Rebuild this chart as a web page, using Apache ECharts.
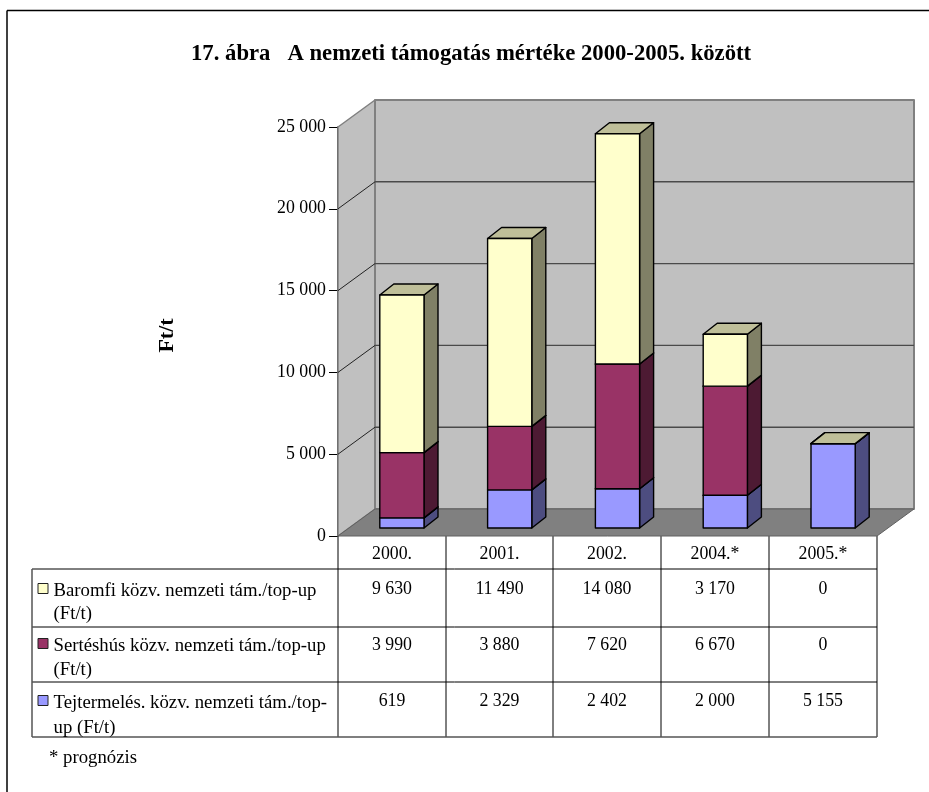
<!DOCTYPE html>
<html><head><meta charset="utf-8">
<style>html,body{margin:0;padding:0;background:#fff}#c{width:929px;height:792px}</style>
<script src="https://cdn.jsdelivr.net/npm/echarts@6/dist/echarts.min.js"></script>
</head><body><div id="c"></div>
<script>
const titleText = '17. ábra   A nemzeti támogatás mértéke 2000-2005. között';
const axisName = 'Ft/t';
const footnote = '* prognózis';
const categories = ['2000.', '2001.', '2002.', '2004.*', '2005.*'];
const tejValues = [619, 2329, 2402, 2000, 5155];
const sertesValues = [3990, 3880, 7620, 6670, 0];
const baromfiValues = [9630, 11490, 14080, 3170, 0];
const baromfiLabel = ['Baromfi közv. nemzeti tám./top-up', '(Ft/t)'];
const sertesLabel = ['Sertéshús közv. nemzeti tám./top-up', '(Ft/t)'];
const tejLabel = ['Tejtermelés. közv. nemzeti tám./top-', 'up (Ft/t)'];

const FONT = '"Liberation Serif","Times New Roman",serif';
const DX = 37, DY = -27;           // depth of the chart box
const BDX = 14, BDY = -11;         // depth of a bar
const OFFX = 10, OFFY = -8;        // bar position within the depth
const G = {left: 338, top: 127, width: 539, height: 409};

const fmt = v => String(v).replace(/\B(?=(\d{3})+$)/g, ' ');
const poly = (pts, fill, stroke, lw) => ({type: 'polygon', shape: {points: pts},
  style: {fill, stroke, lineWidth: lw, lineJoin: 'round'}});

function wallsItem(params, api) {
  const c = params.coordSys, x0 = c.x, x1 = c.x + c.width, yb = c.y + c.height, yt = c.y;
  const ch = [
    poly([[x0, yb], [x0 + DX, yb + DY], [x0 + DX, yt + DY], [x0, yt]], '#c0c0c0', '#808080', 1.5),
    poly([[x0 + DX, yb + DY], [x1 + DX, yb + DY], [x1 + DX, yt + DY], [x0 + DX, yt + DY]], '#c0c0c0', '#808080', 2)
  ];
  [5000, 10000, 15000, 20000].forEach(v => {
    const y = api.coord([0, v])[1];
    ch.push({type: 'line', shape: {x1: x0, y1: y, x2: x0 + DX, y2: y + DY},
      style: {stroke: '#222', lineWidth: 1}});
    ch.push({type: 'line', shape: {x1: x0 + DX, y1: y + DY, x2: x1 + DX, y2: y + DY},
      style: {stroke: '#4a4a4a', lineWidth: 1.4}});
  });
  ch.push(poly([[x0, yb], [x1, yb], [x1 + DX, yb + DY], [x0 + DX, yb + DY]], '#808080', '#606060', 1));
  return {type: 'group', children: ch};
}

function barItem(colors) {
  return function (params, api) {
    const i = api.value(0), lo = api.coord([i, api.value(1)]), hi = api.coord([i, api.value(2)]);
    const w = api.size([1, 0])[0] * 0.41;
    const l = lo[0] + OFFX - w / 2, r = l + w, b = lo[1] + OFFY, t = hi[1] + OFFY;
    const S = '#000', LW = 1.4;
    return {type: 'group', children: [
      poly([[r, b], [r + BDX, b + BDY], [r + BDX, t + BDY], [r, t]], colors[1], S, LW),
      poly([[l, t], [r, t], [r + BDX, t + BDY], [l + BDX, t + BDY]], colors[2], S, LW),
      poly([[l, b], [r, b], [r, t], [l, t]], colors[0], S, LW)
    ]};
  };
}

function stackRows(values, below) {
  return values.map((v, i) => {
    const base = below.reduce((s, a) => s + a[i], 0);
    return [i, base, base + v];
  });
}

const palette = {
  tej: ['#9999ff', '#4d4d80', '#4d4d80'],
  sertes: ['#993366', '#4d1a33', '#73264d'],
  baromfi: ['#ffffcc', '#808066', '#bfbf99']
};

const colX = [338, 446, 553, 661, 769, 877];
const rowY = [536, 569, 627, 682, 737];
const tableLeft = 32;
const TS = 17.8, WIDEN = 1.055;
const rows = [
  {label: baromfiLabel, values: baromfiValues, color: palette.baromfi[0], y1: 590, y2: 613, vy: 588},
  {label: sertesLabel, values: sertesValues, color: palette.sertes[0], y1: 645, y2: 669, vy: 644},
  {label: tejLabel, values: tejValues, color: palette.tej[0], y1: 702, y2: 727, vy: 700}
];

const line = (x1, y1, x2, y2, stroke, lw) => ({type: 'line', silent: true,
  shape: {x1, y1, x2, y2}, style: {stroke, lineWidth: lw}});
const txt = (x, y, text, align, sx) => ({type: 'text', x, y: y + 1, scaleX: sx || 1, silent: true,
  style: {text, x: 0, y: 0, align: align || 'left', verticalAlign: 'middle', fill: '#000',
    font: 'normal ' + TS + 'px ' + FONT}});

const gfx = [];
gfx.push(line(7, 10.5, 929, 10.5, '#000', 1.5), line(7, 10.5, 7, 792, '#000', 1.5));
colX.forEach((x, i) => gfx.push(line(x, 536, x, 737, i === 5 ? '#555' : '#000', i === 5 ? 1.5 : 1)));
rowY.slice(1).forEach((y, i) => gfx.push(line(tableLeft, y, 877, y, i === 3 ? '#555' : '#000', i === 3 ? 1.5 : 1)));
gfx.push(line(tableLeft, 569, tableLeft, 737, '#555', 1.5));
categories.forEach((c, i) => gfx.push(txt((colX[i] + colX[i + 1]) / 2, 553, c, 'center')));
rows.forEach(r => {
  gfx.push({type: 'rect', silent: true, shape: {x: 38, y: r.y1 - 6.5, width: 10, height: 10},
    style: {fill: r.color, stroke: '#222', lineWidth: 1}});
  gfx.push(txt(53.5, r.y1, r.label[0], 'left', WIDEN), txt(53.5, r.y2, r.label[1], 'left', WIDEN));
  r.values.forEach((v, i) => gfx.push(txt((colX[i] + colX[i + 1]) / 2, r.vy, fmt(v), 'center')));
});
gfx.push(txt(49, 757, footnote, 'left', WIDEN));

const chart = echarts.init(document.getElementById('c'), null, {renderer: 'canvas'});
chart.setOption({
  animation: false,
  backgroundColor: '#fff',
  title: {text: titleText, left: 191, top: 43, padding: 0,
    textStyle: {fontFamily: FONT, fontSize: 22.7, fontWeight: 'bold', color: '#000'}},
  grid: Object.assign({}, G, {containLabel: false}),
  xAxis: {type: 'category', data: categories, show: false, boundaryGap: true},
  yAxis: {type: 'value', min: 0, max: 25000, interval: 5000,
    name: axisName, nameLocation: 'middle', nameGap: 160, nameRotate: 90,
    nameTextStyle: {fontFamily: FONT, fontSize: 22, fontWeight: 'bold', color: '#000', padding: [0, 8, 0, 0]},
    axisLine: {show: true, lineStyle: {color: '#000', width: 1.5}},
    axisTick: {show: true, length: 9, lineStyle: {color: '#000', width: 1}},
    axisLabel: {fontFamily: FONT, fontSize: 17.8, color: '#000', margin: 12, padding: [2, 0, 0, 0],
      formatter: v => fmt(v)},
    splitLine: {show: false}},
  graphic: gfx,
  series: [
    {type: 'custom', name: 'walls', coordinateSystem: 'cartesian2d', silent: true, z: 1,
      renderItem: wallsItem, data: [[0, 0]]},
    {type: 'custom', name: tejLabel.join(' '), z: 2, renderItem: barItem(palette.tej),
      encode: {x: 0, y: 2}, data: stackRows(tejValues, [])},
    {type: 'custom', name: sertesLabel.join(' '), z: 3, renderItem: barItem(palette.sertes),
      encode: {x: 0, y: 2}, data: stackRows(sertesValues, [tejValues])},
    {type: 'custom', name: baromfiLabel.join(' '), z: 4, renderItem: barItem(palette.baromfi),
      encode: {x: 0, y: 2}, data: stackRows(baromfiValues, [tejValues, sertesValues])}
  ]
});
</script></body></html>
